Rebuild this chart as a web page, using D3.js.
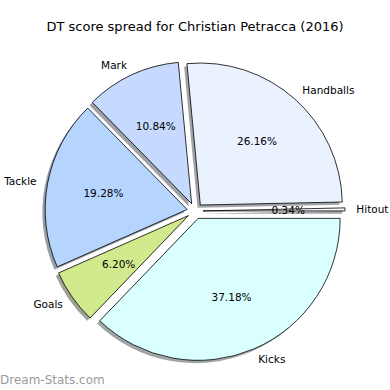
<!DOCTYPE html>
<html>
<head>
<meta charset="utf-8">
<script src="https://cdn.jsdelivr.net/npm/d3@7"></script>
<style>
  body { margin: 0; background: #fff; }
  text { font-family: "DejaVu Sans", sans-serif; fill: #000; }
</style>
</head>
<body>
<div id="chart"></div>
<script>
const categories = ["Hitout", "Handballs", "Mark", "Tackle", "Goals", "Kicks"];
const shares = [0.34, 26.16, 10.84, 19.28, 6.20, 37.18];
const colors = ["#f7f9ff", "#eaf1ff", "#c6d9fe", "#b5d5ff", "#d1ea8d", "#d9ffff"];

const width = 390;
const height = 390;
const cx = 195;
const cy = 211;
const radius = 142;
const explode = 8;

const svg = d3.select("#chart").append("svg")
    .attr("width", width)
    .attr("height", height);

svg.append("text")
    .attr("x", width / 2)
    .attr("y", 26)
    .attr("text-anchor", "middle")
    .attr("dominant-baseline", "central")
    .style("font-size", "13px")
    .text("DT score spread for Christian Petracca (2016)");

// counter-clockwise from 3 o'clock, like matplotlib
const pie = d3.pie()
    .sort(null)
    .startAngle(Math.PI / 2)
    .endAngle(Math.PI / 2 - 2 * Math.PI);

const slices = pie(shares).map((d, i) => {
    const mid = (d.startAngle + d.endAngle) / 2;
    return {
        ...d,
        name: categories[i],
        color: colors[i],
        mid: mid,
        ox: cx + explode * Math.sin(mid),
        oy: cy - explode * Math.cos(mid)
    };
});

const arc = d3.arc().innerRadius(0).outerRadius(radius);

// shadows behind everything
svg.append("g").selectAll("path.shadow")
    .data(slices)
    .join("path")
    .attr("class", "shadow")
    .attr("transform", d => `translate(${d.ox - 2.8}, ${d.oy + 2.8})`)
    .attr("d", arc)
    .attr("fill", d => {
        const c = d3.rgb(d.color);
        return `rgba(${c.r * 0.3}, ${c.g * 0.3}, ${c.b * 0.3}, 0.5)`;
    });

svg.append("g").selectAll("path.wedge")
    .data(slices)
    .join("path")
    .attr("class", "wedge")
    .attr("transform", d => `translate(${d.ox}, ${d.oy})`)
    .attr("d", arc)
    .attr("fill", d => d.color)
    .attr("stroke", "#000")
    .attr("stroke-width", 0.8)
    .attr("stroke-linejoin", "miter");

// category labels just outside the rim
const labelR = radius * 1.08;
svg.append("g").selectAll("text")
    .data(slices)
    .join("text")
    .attr("x", d => d.ox + labelR * Math.sin(d.mid))
    .attr("y", d => d.oy - labelR * Math.cos(d.mid))
    .attr("text-anchor", d => Math.sin(d.mid) > 0 ? "start" : "end")
    .attr("dominant-baseline", "central")
    .style("font-size", "10.5px")
    .text(d => d.name);

// percent labels at 0.6 R
svg.append("g").selectAll("text")
    .data(slices)
    .join("text")
    .attr("x", d => d.ox + radius * 0.6 * Math.sin(d.mid))
    .attr("y", d => d.oy - radius * 0.6 * Math.cos(d.mid))
    .attr("text-anchor", "middle")
    .attr("dominant-baseline", "central")
    .style("font-size", "10.5px")
    .text(d => d.data.toFixed(2) + "%");

svg.append("text")
    .attr("x", 0)
    .attr("y", 384)
    .style("font-size", "12px")
    .style("fill", "#9a9a9a")
    .text("Dream-Stats.com");
</script>
</body>
</html>
